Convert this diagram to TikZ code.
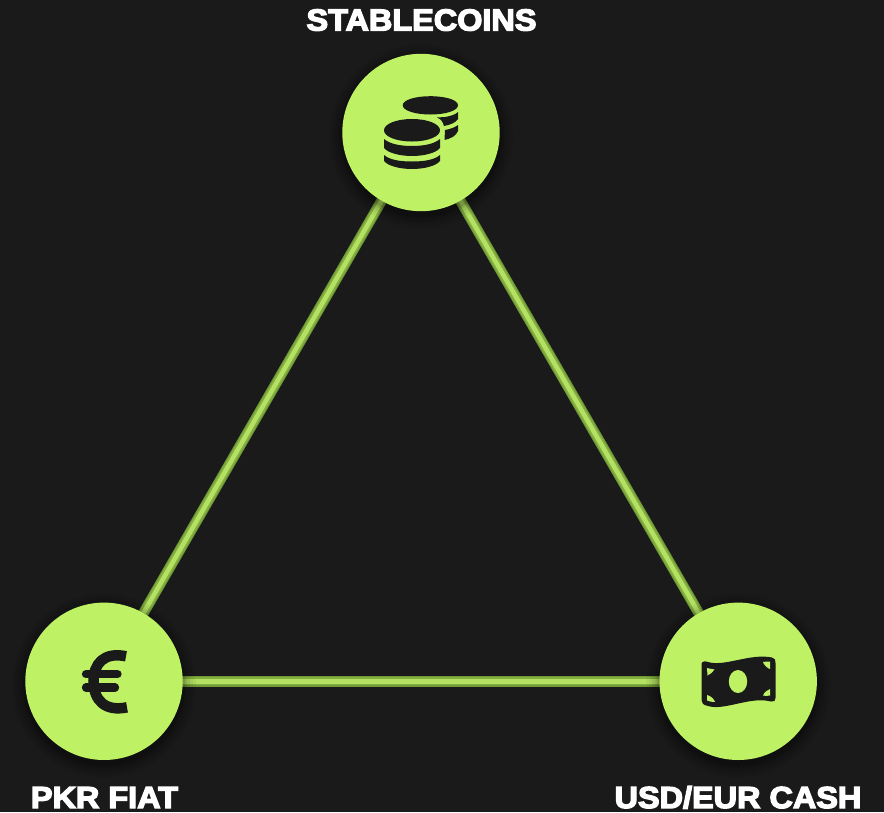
\documentclass[tikz,border=0pt]{standalone}
\usepackage{fontspec}
\setmainfont[FakeBold=4.5,FakeStretch=1.07]{Liberation Sans Bold}
\usetikzlibrary{calc}
\definecolor{bgdark}{HTML}{1A1A1A}
\definecolor{lime}{HTML}{BEF264}
\definecolor{linkouter}{HTML}{6F9A35}
\definecolor{linkmid}{HTML}{84B040}
\definecolor{linkinner}{HTML}{B4E063}
\tikzset{
  x=1pt,y=-1pt,
  hub/.style={circle,fill=lime,draw=none,minimum size=157.4pt,inner sep=0pt},
  caption/.style={text=white,font=\fontsize{30.3}{30.3}\selectfont,inner sep=0pt,anchor=base},
  icon/.style={fill=bgdark,draw=none},
  cut/.style={fill=lime,draw=none},
}
\newcommand{\hubshadow}[2]{%
  \foreach \r/\o in {92/0.04,89/0.05,86/0.07,83/0.09,81/0.12}{
    \fill[black,opacity=\o] (#1,#2+4) circle[radius=\r];
  }}
\begin{document}
\begin{tikzpicture}
\useasboundingbox (0,0) rectangle (884,812);
\fill[bgdark] (0,0) rectangle (884,812);
\coordinate (ct) at (421,132.5);
\coordinate (cl) at (104,681.3);
\coordinate (cr) at (738.2,681.3);
% connectors
\foreach \a/\b in {ct/cl,ct/cr,cl/cr}{
  \draw[linkouter,line width=10.5pt] (\a) -- (\b);
  \draw[linkmid,line width=8pt] (\a) -- (\b);
  \draw[linkinner,line width=4.5pt] (\a) -- (\b);
}
\hubshadow{421}{132.5}
\hubshadow{104}{681.3}
\hubshadow{738.2}{681.3}
\node[hub] (top) at (ct) {};
\node[hub] (left) at (cl) {};
\node[hub] (right) at (cr) {};
% coins
\fill[icon] (402.7,105.3) .. controls (402.7,100) and (415,96.2) .. (430.3,96.2)
  .. controls (446,96.2) and (458,100) .. (458,105.3)
  .. controls (458,110.5) and (446,114.5) .. (430.3,114.5)
  .. controls (415,114.5) and (402.7,110.5) .. (402.7,105.3) -- cycle;
\fill[icon] (445,117) .. controls (451,116) and (455.5,114.5) .. (458,112) -- (458,119)
  .. controls (456,122.5) and (450,125) .. (444,126) .. controls (443,122) and (441,119) .. (437,117.5) -- cycle;
\fill[icon] (445,130) .. controls (451,129) and (455.5,127) .. (458,125) -- (458,131)
  .. controls (456,136) and (451,138.5) .. (444.5,140) -- cycle;
\fill[icon] (384,130.3) .. controls (384,124) and (396,119) .. (412,119)
  .. controls (428,119) and (440,124) .. (440,130.3)
  .. controls (440,136.5) and (428,141.5) .. (412,141.5)
  .. controls (396,141.5) and (384,136.5) .. (384,130.3) -- cycle;
\fill[icon] (384,139) .. controls (390,144) and (400,146) .. (412,146)
  .. controls (424,146) and (434,144) .. (440,139) -- (440,148)
  .. controls (436,153) and (424,156) .. (412,156)
  .. controls (400,156) and (388,153) .. (384,148) -- cycle;
\fill[icon] (384,155) .. controls (390,160) and (400,161.5) .. (412,161.5)
  .. controls (424,161.5) and (434,160) .. (440,155) -- (440,161)
  .. controls (436,166) and (424,169) .. (412,169)
  .. controls (400,169) and (388,166) .. (384,161) -- cycle;
% euro
\draw[bgdark,line width=10.5pt] (126,656.3)
  .. controls (104,651.5) and (93.5,664) .. (93.5,681)
  .. controls (93.5,700) and (105,712) .. (127,707.3);
\draw[bgdark,line width=8.3pt,line cap=round] (86,674.2) -- (117.5,674.2);
\draw[bgdark,line width=8.3pt,line cap=round] (86,687.5) -- (115,687.5);
% banknote
\fill[icon] (701.5,664) .. controls (702,661) and (705,661) .. (708,662)
  .. controls (725,667) and (750,653) .. (772,657.5)
  .. controls (775,658) and (775.5,660) .. (775.5,663)
  -- (775.5,698) .. controls (775.5,701) and (774,702) .. (771,701.5)
  .. controls (750,696) and (725,711) .. (708,706)
  .. controls (703,705) and (701.5,703) .. (701.5,700) -- cycle;
\fill[cut] (738,681.5) ellipse[x radius=9.2,y radius=11.5];
\fill[cut] (707,668) .. controls (711,669) and (715,669.5) .. (714.5,669.5)
  .. controls (713,672) and (710,674.5) .. (707.5,675.5) -- cycle;
\fill[cut] (707,695) .. controls (711,696) and (714,699) .. (715,702)
  .. controls (712,702) and (709,701.5) .. (707,700.5) -- cycle;
\fill[cut] (770,661.5) -- (770,669) .. controls (767,668) and (764,665) .. (763,662) .. controls (765,661.5) and (768,661.5) .. (770,661.5) -- cycle;
\fill[cut] (770,689) -- (770,695.5) .. controls (767,696) and (765,696) .. (763,695.5) .. controls (764,692.5) and (767,690) .. (770,689) -- cycle;
% labels
\node[caption] (lt) at (421.5,30.5) {STABLECOINS};
\node[caption] (ll) at (104.5,808) {PKR FIAT};
\node[caption] (lr) at (738,808) {USD/EUR CASH};
\end{tikzpicture}
\end{document}
